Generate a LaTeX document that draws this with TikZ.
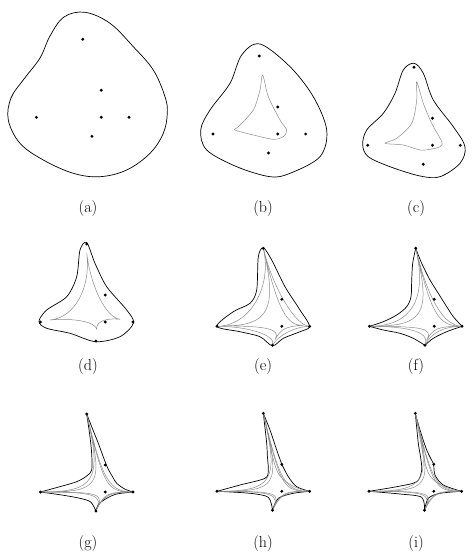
\documentclass[tikz,border=0pt]{standalone}
\usetikzlibrary{calc}
\tikzset{
  outline/.style={draw=black, line width=0.7pt, line join=round},
  grayline/.style={draw=black!45, line width=0.5pt, line join=round},
  lab/.style={font=\fontsize{16}{19}\selectfont, inner sep=0pt},
}
\newcommand\mkpts[1]{%
  \coordinate (#1T) at (0,0);
  \coordinate (#1M) at (18.5,51);
  \coordinate (#1L) at (-46.3,78);
  \coordinate (#1C) at (18.5,78);
  \coordinate (#1R) at (46.3,78);
  \coordinate (#1B) at (9.2,97);}
\newcommand\drawpts[1]{%
  \foreach \p in {T,M,L,C,R,B} {\fill (#1\p) circle[radius=1.6];}}
\newcommand\cuspstar[6]{%
  \draw[grayline] (#1) .. controls ($(#1)!#6!(#5)$) and ($(#2)!#6!(#5)$) .. (#2)
   .. controls ($(#2)!#6!(#5)$) and ($(#3)!#6!(#5)$) .. (#3)
   .. controls ($(#3)!#6!(#5)$) and ($(#4)!#6!(#5)$) .. (#4)
   .. controls ($(#4)!#6!(#5)$) and ($(#1)!#6!(#5)$) .. (#1);}
\begin{document}
\begin{tikzpicture}[x=1pt,y=-1pt]
\useasboundingbox (0,0) rectangle (471,553);
\fill[white] (0,0) rectangle (471,553);

% ---------- (a)
\draw[outline] plot[smooth cycle, tension=0.6] coordinates {
 (85,12.3) (110,23.3) (133.3,46.7) (153.3,70) (165,96.7) (167.3,113.3) (163.3,133.3)
 (150,153.3) (126.7,170) (100,176.7) (73.3,173.3) (43.3,160) (20,143.3) (8.3,120)
 (11,98) (24,79) (40,58) (50,36) (64,17)};
\begin{scope}[shift={(82.7,39.3)}]
  \mkpts{a}
\end{scope}
\drawpts{a}
\node[lab] (la) at (88,209) {(a)};

% ---------- (b)
\draw[outline] plot[smooth cycle, tension=0.55] coordinates {
 (260,44) (290,66.7) (313.3,96.7) (326.7,130) (320,156.7) (290,173.3) (270,176.7)
 (236.7,166.7) (206.7,150) (200.7,130) (210,110) (230,83.3) (241.7,55)};
\draw[grayline] plot[smooth cycle, tension=0.5] coordinates {
 (262.7,75) (268.3,96.7) (280,120) (286.7,130) (283.3,136.7) (273.3,139.3)
 (253.3,135) (235,130) (238.3,126.7) (253.3,110) (260,90)};
\begin{scope}[shift={(259.3,56)}]
  \mkpts{b}
\end{scope}
\drawpts{b}
\node[lab] (lb) at (263,209) {(b)};

% ---------- (c)
\draw[outline] plot[smooth cycle, tension=0.55] coordinates {
 (414,63.3) (423.3,73.3) (433.3,100) (453.3,126.7) (465,146.7) (460,163.3) (440,176.7)
 (420,176) (390,166.7) (368.3,156.7) (362.7,145) (366.7,130) (383.3,113.3) (395,93.3) (403.3,70)};
\draw[grayline] plot[smooth cycle, tension=0.5] coordinates {
 (416.7,81.7) (423.3,103.3) (431.7,123.3) (441.7,141.7) (440,146.7) (430,149.3)
 (420,150) (403.3,145) (385,143.3) (396.7,138.3) (411.7,123.3) (416.7,100)};
\begin{scope}[shift={(414,67.3)}]
  \mkpts{c}
\end{scope}
\drawpts{c}
\node[lab] (lc) at (416,209) {(c)};

% ---------- (d)
\begin{scope}[shift={(86.7,244)}]
  \mkpts{d}
  \draw[outline] plot[smooth cycle, tension=0.5] coordinates {
   (0,-1.5) (8.3,19.3) (20,42.7) (40,66) (46.8,79) (33.3,92.7) (9,97.7) (-16.7,89.3)
   (-40,84.3) (-47.8,77.5) (-40,66) (-20,52.7) (-10,32.7) (-6.7,6) };
  \coordinate (d1) at (0,9.3);
  \coordinate (d2) at (33.3,75.3);
  \coordinate (d3) at (10,85.3);
  \coordinate (d4) at (-36.7,76);
  \coordinate (dc) at (8,72);
  \cuspstar{d1}{d2}{d3}{d4}{dc}{0.55}
\end{scope}
\drawpts{d}
\node[lab] (ld) at (88,367) {(d)};

% ---------- (e)
\begin{scope}[shift={(263.3,248.3)}]
  \mkpts{e}
  \draw[outline] plot[smooth cycle, tension=0.5] coordinates {
   (0,-0.5) (8.4,11.7) (21.7,38.4) (36.7,61.7) (46.3,78) (36.7,83.4) (20,90) (9.2,97.5)
   (-3.3,88.4) (-23.3,83.4) (-46.3,78) (-30,63.4) (-13.3,55) (-6.6,41.7) (-5,8.4)};
  \coordinate (e2) at (40,77);
  \coordinate (e3) at (12,91);
  \coordinate (e4) at (-40,77.5);
  \cuspstar{eT}{eR}{eB}{eL}{eC}{0.5}
  \cuspstar{eT}{e2}{e3}{e4}{eC}{0.78}
\end{scope}
\drawpts{e}
\node[lab] (le) at (263,367) {(e)};

% ---------- (f)
\begin{scope}[shift={(415.7,248.3)}]
  \mkpts{f}
  \draw[outline] plot[smooth, tension=0.5] coordinates {
   (0,0) (6,15) (14.3,31.7) (22.6,45) (31,58.4) (37.6,68.4) (46.3,78)}
   -- plot[smooth, tension=0.5] coordinates {(46.3,78) (31,83.4) (17.6,90) (9.2,97)}
   -- plot[smooth, tension=0.5] coordinates {(9.2,97) (-2.4,90) (-15.7,85) (-32.4,81.7) (-46.3,78)}
   -- plot[smooth, tension=0.5] coordinates {(-46.3,78) (-32.4,73.4) (-19,66.7) (-9,58.4)
      (-4.7,48.4) (-4,31.7) (-3,15) (0,0)} -- cycle;
  \coordinate (f3) at (11,92);
  \cuspstar{fT}{fR}{fB}{fL}{fC}{0.65}
  \cuspstar{fT}{fR}{f3}{fL}{fC}{0.85}
\end{scope}
\drawpts{f}
\node[lab] (lf) at (416,367) {(f)};

% ---------- (g)
\begin{scope}[shift={(86.7,414)}]
  \mkpts{g}
  \draw[outline] plot[smooth, tension=0.5] coordinates {
   (0,0) (5.5,14) (11.6,29.3) (17,44) (21,54) (26,63) (30,69.3) (38,75) (46.3,78)}
   -- plot[smooth, tension=0.5] coordinates {(46.3,78) (30,80) (20,84.3) (12,90) (9.2,97)}
   -- plot[smooth, tension=0.5] coordinates {(9.2,97) (4,88) (-6.7,84.3) (-25,81) (-46.3,78)}
   -- plot[smooth, tension=0.5] coordinates {(-46.3,78) (-28,73) (-10,67.7) (0,62) (5,56)
      (5,40) (3.3,22.7) (0,0)} -- cycle;
  \cuspstar{gT}{gR}{gB}{gL}{gC}{0.85}
  \cuspstar{gT}{gR}{gB}{gL}{gC}{0.94}
\end{scope}
\drawpts{g}
\node[lab] (lg) at (88,544) {(g)};

% ---------- (h)
\begin{scope}[shift={(263.3,413.3)}]
  \mkpts{h}
  \draw[outline] plot[smooth, tension=0.5] coordinates {
   (0,0) (6.7,16.7) (13.4,36.7) (18.5,51)}
   -- plot[smooth, tension=0.5] coordinates {(18.5,51) (25,63.4) (33.4,73.4) (46.3,78)}
   -- plot[smooth, tension=0.5] coordinates {(46.3,78) (30,80) (15,85) (9.2,97)}
   -- plot[smooth, tension=0.5] coordinates {(9.2,97) (5,84) (-13.3,80) (-46.3,78)}
   -- plot[smooth, tension=0.5] coordinates {(-46.3,78) (-23.3,71.7) (1.7,65) (5,56.7)
      (4,42) (3.4,30) (0,0)} -- cycle;
  \cuspstar{hT}{hR}{hB}{hL}{hC}{0.87}
  \cuspstar{hT}{hR}{hB}{hL}{hC}{0.95}
  \draw[grayline] (hT) .. controls (7,30) and (10,55) .. (17,63) .. controls (24,71) and (34,76) .. (hR);
\end{scope}
\drawpts{h}
\node[lab] (lh) at (263,544) {(h)};

% ---------- (i)
\begin{scope}[shift={(415.3,413.3)}]
  \mkpts{i}
  \draw[outline] plot[smooth, tension=0.5] coordinates {
   (0,0) (4.7,16.7) (11.4,36.7) (18.5,51)}
   -- plot[smooth, tension=0.5] coordinates {(18.5,51) (19.7,61.7) (28,71.7) (46.3,78)}
   -- plot[smooth, tension=0.5] coordinates {(46.3,78) (24.7,80) (13,85) (9.2,97)}
   -- plot[smooth, tension=0.5] coordinates {(9.2,97) (6.4,84) (-15.3,80.7) (-46.3,78)}
   -- plot[smooth, tension=0.5] coordinates {(-46.3,78) (-18.6,73.4) (1.4,68.4) (6.4,56.7)
      (5,42) (3,30) (0,0)} -- cycle;
  \cuspstar{iT}{iR}{iB}{iL}{iC}{0.88}
  \cuspstar{iT}{iR}{iB}{iL}{iC}{0.96}
  \draw[grayline] (iT) .. controls (6,30) and (9,55) .. (15,63) .. controls (21,71) and (32,76) .. (iR);
\end{scope}
\drawpts{i}
\node[lab] (li) at (416,544) {(i)};
\end{tikzpicture}
\end{document}
